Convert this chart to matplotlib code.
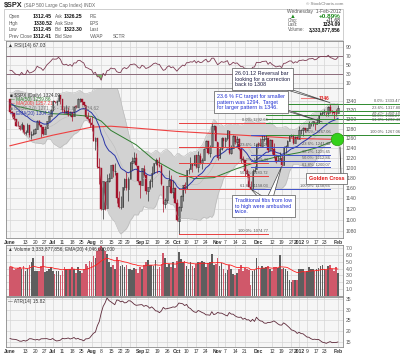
import numpy as np
import pandas as pd
import matplotlib
matplotlib.use('Agg')
import matplotlib.pyplot as plt
from matplotlib.patches import Polygon, Rectangle
from matplotlib.ticker import FixedLocator, NullLocator, NullFormatter

plt.rcParams['font.family'] = ['Liberation Sans', 'DejaVu Sans']

# trading days shown on the chart
holidays = ['2011-07-04', '2011-09-05', '2011-11-24', '2011-12-26', '2012-01-02', '2012-01-16']
days = pd.bdate_range('2011-06-01', '2012-02-01')
days = days[~days.isin(pd.to_datetime(holidays))]

# closes of May 2011, only used to warm up the indicators
may_closes = [1361.22, 1356.62, 1347.32, 1335.10, 1340.20, 1346.29, 1357.16, 1342.08, 1348.65, 1337.77,
              1329.47, 1328.98, 1340.68, 1343.60, 1333.27, 1317.37, 1316.28, 1320.47, 1325.69, 1331.10, 1345.20]

opens = [
    1345.20, 1314.55, 1312.94, 1300.26, 1286.31, 1284.63, 1279.63, 1288.26, 1271.31, 1272.22, 1287.87, 1265.53, 1268.58, 1271.50, 1278.40, 1295.48, 1286.60, 1283.04, 1268.44, 1280.21, 1296.85, 1307.64,
    1320.64, 1339.59, 1337.56, 1339.62, 1352.39, 1343.31, 1319.61, 1314.45, 1317.74, 1308.87, 1315.94, 1307.07, 1328.66, 1325.65, 1343.80, 1344.32, 1337.39, 1331.91, 1304.84, 1300.12,
    1292.59, 1286.56, 1254.25, 1260.23, 1200.28, 1198.48, 1120.23, 1171.77, 1121.30, 1172.87, 1178.86, 1204.22, 1192.89, 1189.62, 1140.47, 1123.55, 1124.36, 1162.16, 1176.69, 1158.85, 1177.91, 1209.76, 1213.00,
    1219.12, 1203.90, 1173.97, 1165.85, 1197.98, 1185.37, 1153.50, 1162.59, 1173.32, 1189.44, 1209.21, 1214.99, 1204.50, 1203.63, 1164.55, 1128.82, 1136.91, 1163.32, 1175.39, 1151.74, 1159.93,
    1131.21, 1097.42, 1124.03, 1144.11, 1165.03, 1158.15, 1194.60, 1196.19, 1206.96, 1205.65, 1224.47, 1200.75, 1223.46, 1209.92, 1215.39, 1238.72, 1254.19, 1229.17, 1243.97, 1284.39, 1284.96,
    1251.00, 1219.62, 1238.25, 1260.82, 1253.21, 1261.12, 1275.18, 1229.59, 1240.12, 1263.85, 1251.70, 1257.81, 1236.56, 1216.19, 1215.62, 1192.98, 1187.48, 1161.41, 1158.67, 1192.56, 1196.72,
    1246.91, 1246.03, 1244.33, 1257.19, 1258.14, 1260.87, 1234.48, 1255.05, 1236.83, 1225.73, 1212.12, 1216.09, 1219.74, 1205.72, 1241.25, 1243.72, 1254.00, 1265.02, 1265.38, 1249.75, 1262.82,
    1258.86, 1277.03, 1277.30, 1280.93, 1277.83, 1280.77, 1292.02, 1292.48, 1294.82, 1290.22, 1293.65, 1308.07, 1314.49, 1315.29, 1315.96, 1314.40, 1326.28, 1318.25, 1316.16, 1313.53,
    1312.45]
highs = [
    1345.20, 1318.03, 1312.94, 1300.26, 1296.22, 1287.04, 1294.54, 1288.26, 1277.04, 1292.50, 1287.87, 1274.11, 1279.82, 1280.42, 1297.62, 1298.61, 1286.60, 1283.93, 1284.91, 1296.80, 1309.21, 1321.97,
    1341.01, 1340.89, 1340.94, 1356.48, 1352.39, 1343.31, 1327.17, 1331.48, 1326.88, 1317.70, 1315.94, 1328.14, 1330.43, 1347.00, 1346.10, 1344.32, 1338.51, 1331.91, 1316.32, 1304.16,
    1307.38, 1286.56, 1261.20, 1260.23, 1218.11, 1198.48, 1172.88, 1171.77, 1186.29, 1189.04, 1204.49, 1204.22, 1208.47, 1189.62, 1154.54, 1145.49, 1162.35, 1178.56, 1190.68, 1181.23, 1210.08, 1220.10, 1230.71,
    1229.29, 1203.90, 1173.97, 1198.62, 1204.40, 1185.37, 1162.52, 1176.41, 1202.38, 1209.11, 1220.06, 1214.99, 1220.39, 1206.30, 1164.55, 1141.72, 1164.19, 1195.86, 1184.71, 1175.87, 1159.93,
    1138.99, 1125.12, 1146.07, 1165.55, 1171.40, 1194.91, 1199.24, 1220.25, 1207.46, 1224.61, 1224.47, 1233.10, 1229.64, 1219.36, 1239.03, 1256.55, 1254.19, 1246.28, 1292.66, 1287.08, 1284.96,
    1251.00, 1242.48, 1263.21, 1260.82, 1261.70, 1277.55, 1275.18, 1246.22, 1266.98, 1263.85, 1264.25, 1259.61, 1237.73, 1223.51, 1215.62, 1196.81, 1187.48, 1172.66, 1197.35, 1203.67, 1247.11,
    1251.09, 1260.08, 1266.73, 1266.03, 1267.06, 1260.87, 1258.25, 1255.05, 1249.86, 1225.73, 1225.60, 1231.04, 1224.57, 1242.82, 1245.09, 1255.22, 1265.42, 1269.37, 1265.85, 1263.54, 1264.12,
    1284.62, 1278.73, 1283.05, 1281.84, 1281.99, 1296.46, 1293.80, 1296.82, 1294.82, 1303.00, 1308.11, 1315.49, 1315.38, 1322.28, 1315.96, 1328.30, 1333.47, 1320.06, 1316.16, 1321.41,
    1330.52]
lows = [
    1313.71, 1305.61, 1297.90, 1284.72, 1284.74, 1277.42, 1279.63, 1268.28, 1265.64, 1272.22, 1261.90, 1258.07, 1267.40, 1267.56, 1278.40, 1286.79, 1262.87, 1267.24, 1267.53, 1280.21, 1296.85, 1307.64,
    1318.18, 1334.30, 1330.92, 1339.62, 1333.71, 1316.42, 1313.33, 1314.45, 1306.51, 1307.35, 1295.92, 1307.07, 1323.65, 1325.65, 1336.95, 1331.09, 1329.10, 1303.49, 1299.16, 1282.86,
    1274.73, 1254.03, 1234.56, 1199.54, 1168.09, 1119.28, 1101.54, 1118.01, 1121.30, 1170.74, 1178.86, 1180.53, 1184.36, 1131.03, 1122.05, 1121.09, 1124.36, 1156.30, 1155.47, 1135.91, 1177.91, 1195.77, 1209.35,
    1203.85, 1170.56, 1140.13, 1165.85, 1183.34, 1148.37, 1136.07, 1157.44, 1162.73, 1189.44, 1204.46, 1188.36, 1201.29, 1166.21, 1114.22, 1121.36, 1131.07, 1163.32, 1150.40, 1139.93, 1131.34,
    1098.92, 1074.77, 1115.68, 1134.95, 1150.26, 1158.15, 1187.30, 1196.19, 1190.58, 1205.65, 1198.55, 1191.48, 1206.31, 1197.34, 1215.39, 1238.72, 1226.79, 1221.06, 1243.97, 1277.01, 1253.16,
    1215.42, 1219.62, 1234.81, 1238.92, 1240.75, 1254.99, 1226.64, 1227.70, 1240.12, 1246.68, 1244.34, 1235.67, 1209.43, 1211.36, 1183.16, 1181.65, 1161.79, 1158.66, 1158.67, 1191.80, 1196.72,
    1239.73, 1243.35, 1244.33, 1253.03, 1244.80, 1231.47, 1234.48, 1227.25, 1219.43, 1209.47, 1212.12, 1215.20, 1202.37, 1205.72, 1229.51, 1243.72, 1254.00, 1262.30, 1248.64, 1249.75, 1257.46,
    1258.86, 1268.10, 1265.26, 1273.34, 1274.55, 1280.77, 1285.41, 1285.77, 1277.58, 1290.22, 1290.99, 1308.07, 1309.17, 1309.89, 1306.06, 1307.65, 1313.60, 1311.72, 1300.49, 1306.69,
    1312.45]
closes = [
    1314.55, 1312.94, 1300.16, 1286.17, 1284.94, 1279.56, 1289.00, 1270.98, 1271.83, 1287.87, 1265.42, 1267.64, 1271.50, 1278.36, 1295.52, 1287.14, 1283.50, 1268.45, 1280.10, 1296.67, 1307.41, 1320.64,
    1339.67, 1337.88, 1339.22, 1353.22, 1343.80, 1319.49, 1313.64, 1317.72, 1308.87, 1316.14, 1305.44, 1326.73, 1325.84, 1343.80, 1345.02, 1337.43, 1331.94, 1304.89, 1300.67, 1292.28,
    1286.94, 1254.05, 1260.34, 1200.07, 1199.38, 1119.46, 1172.53, 1120.76, 1172.64, 1178.81, 1204.49, 1192.76, 1193.89, 1140.65, 1123.53, 1123.82, 1162.35, 1177.60, 1159.27, 1176.80, 1210.08, 1212.92, 1218.89,
    1204.42, 1173.97, 1165.24, 1198.62, 1185.90, 1154.23, 1162.27, 1172.87, 1188.68, 1209.11, 1216.01, 1204.09, 1202.09, 1166.76, 1129.56, 1136.43, 1162.95, 1175.38, 1151.06, 1160.40, 1131.42,
    1099.23, 1123.95, 1144.03, 1164.97, 1155.46, 1194.89, 1195.54, 1207.25, 1203.66, 1224.58, 1200.86, 1225.38, 1209.88, 1215.39, 1238.25, 1254.19, 1229.05, 1242.00, 1284.59, 1285.09, 1253.30,
    1218.28, 1237.90, 1261.15, 1253.23, 1261.12, 1275.92, 1229.10, 1239.69, 1263.85, 1251.78, 1257.81, 1236.91, 1216.13, 1215.65, 1192.98, 1188.04, 1161.79, 1158.67, 1192.55, 1195.19, 1246.96,
    1244.58, 1244.28, 1257.08, 1258.47, 1261.01, 1234.35, 1255.19, 1236.47, 1225.73, 1211.82, 1215.75, 1219.66, 1205.35, 1241.30, 1243.72, 1254.00, 1265.33, 1265.43, 1249.64, 1263.02, 1257.60,
    1277.06, 1277.30, 1281.06, 1277.81, 1280.70, 1292.08, 1292.48, 1295.50, 1289.09, 1293.67, 1308.04, 1314.50, 1315.38, 1316.00, 1314.65, 1326.06, 1318.43, 1316.33, 1313.01, 1312.41,
    1324.09]
# volume in billions
volumes = [
    4.3, 4.2, 3.8, 4.0, 4.1, 4.2, 3.9, 4.4, 3.6, 3.9, 4.6, 4.9, 5.5, 3.6, 3.7, 3.6, 4.4, 5.8, 3.5, 3.7, 4.0, 4.2,
    3.6, 3.2, 3.6, 3.7, 3.1, 3.6, 4.2, 3.9, 4.0, 4.0, 4.2, 3.9, 3.4, 4.2, 3.6, 3.4, 3.9, 4.7, 4.4, 5.1,
    5.0, 5.9, 5.5, 6.6, 7.0, 7.3, 7.0, 6.6, 6.2, 5.0, 4.3, 4.5, 4.0, 5.7, 5.2, 4.4, 4.5, 4.2, 4.5, 4.0, 3.9, 3.8, 4.1,
    4.0, 3.4, 4.2, 4.0, 4.5, 4.9, 5.2, 4.5, 4.6, 4.4, 5.2, 4.0, 4.3, 4.7, 6.3, 5.6, 4.3, 4.7, 4.3, 5.0, 4.1,
    5.1, 6.4, 5.4, 5.0, 5.1, 4.4, 3.9, 4.9, 4.4, 4.1, 4.7, 5.0, 4.9, 5.1, 5.0, 4.3, 4.8, 4.9, 6.1, 4.5, 4.7,
    5.6, 4.4, 4.8, 3.9, 3.4, 3.8, 4.5, 3.9, 3.2, 3.1, 3.4, 4.0, 4.6, 3.7, 4.1, 4.0, 3.8, 1.6, 3.6, 3.8, 5.6,
    4.4, 4.0, 4.4, 4.1, 4.3, 4.4, 4.0, 3.6, 4.3, 4.3, 4.1, 6.0, 3.9, 4.1, 4.0, 3.6, 2.4, 2.1, 2.3, 2.3, 2.3,
    4.0, 3.9, 4.0, 3.5, 3.6, 4.2, 4.0, 4.0, 3.7, 4.0, 4.1, 4.4, 4.6, 3.9, 3.8, 4.4, 4.6, 4.0, 3.7, 4.2,
    3.33]

# moving averages
ma50_dates = ['2011-06-01', '2011-06-15', '2011-07-01', '2011-07-15', '2011-08-01', '2011-08-08', '2011-08-15',
              '2011-09-01', '2011-09-15', '2011-10-03', '2011-10-14', '2011-10-28', '2011-11-15', '2011-12-01',
              '2011-12-15', '2012-01-03', '2012-01-17', '2012-02-01']
ma50_vals = [1332, 1322, 1312, 1310, 1306, 1296, 1276, 1246, 1216, 1190, 1178, 1180, 1198, 1212, 1222, 1230, 1240, 1258]
ma200_dates = ['2011-06-01', '2011-07-01', '2011-08-01', '2011-08-15', '2011-09-01', '2011-10-03', '2011-11-01',
               '2011-12-01', '2012-01-03', '2012-02-01']
ma200_vals = [1244, 1266, 1283, 1285, 1281, 1274, 1269, 1264, 1259, 1257.21]

# fibonacci retracement sets drawn on the chart
fib_pcts = ['0.0%', '23.6%', '38.2%', '50.0%', '61.8%', '100.0%']
red_fib = [1292.66, 1241.25, 1209.43, 1183.72, 1158.03, 1074.77]
red_span = ['2011-10-04', '2011-12-08']
green_fib = [1333.47, 1317.80, 1308.10, 1300.27, 1292.43, 1267.06]
green_span = ['2011-12-07', '2012-02-01']
blue_fib = [1267.06, 1241.48, 1225.65, 1212.86, 1200.07, 1158.66]
blue_span = ['2011-11-25', '2012-01-26']

x_ticks = ['2011-06-01', '2011-06-13', '2011-06-20', '2011-06-27', '2011-07-01', '2011-07-11', '2011-07-18',
           '2011-07-25', '2011-08-01', '2011-08-08', '2011-08-15', '2011-08-22', '2011-08-29', '2011-09-01',
           '2011-09-12', '2011-09-19', '2011-09-26', '2011-10-03', '2011-10-10', '2011-10-17', '2011-10-24',
           '2011-11-01', '2011-11-07', '2011-11-14', '2011-11-21', '2011-12-01', '2011-12-12', '2011-12-19',
           '2011-12-27', '2012-01-03', '2012-01-09', '2012-01-17', '2012-01-23', '2012-02-01']
x_labels = ['June', '13', '20', '27', 'Jul', '11', '18', '25', 'Aug', '8', '15', '22', '29', 'Sep', '12', '19', '26',
            'Oct', '10', '17', '24', 'Nov', '7', '14', '21', 'Dec', '12', '19', '27', '2012', '9', '17', '23', 'Feb']
months = ['June', 'Jul', 'Aug', 'Sep', 'Oct', 'Nov', 'Dec', '2012', 'Feb']

assert len(days) == len(closes) == len(opens) == len(highs) == len(lows) == len(volumes)

def pos(d):
    return days.get_loc(pd.Timestamp(d))

x = np.arange(len(days))
o = np.array(opens); h = np.array(highs); l = np.array(lows); c = np.array(closes)
v = np.array(volumes)
prev_c = np.r_[may_closes[-1], c[:-1]]
down = c < prev_c

# indicators
allc = pd.Series(may_closes + closes)
n0 = len(may_closes)
sma20 = allc.rolling(20).mean().values[n0:]
sd20 = allc.rolling(20).std(ddof=0).values[n0:]
bb_up = sma20 + 2 * sd20
bb_lo = sma20 - 2 * sd20
ema20 = allc.ewm(span=20, adjust=False).mean().values[n0:]
delta = allc.diff()
gain = delta.clip(lower=0).ewm(alpha=1/14).mean()
loss = (-delta.clip(upper=0)).ewm(alpha=1/14).mean()
rsi = (100 - 100 / (1 + gain / loss)).values[n0:]
tr = np.maximum(h - l, np.maximum(abs(h - prev_c), abs(l - prev_c)))
atr = []
a = 15.5
for t in tr:
    a = (13 * a + t) / 14
    atr.append(a)
vol_ema = pd.Series(v).ewm(span=20).mean().values

# ---- figure ----
W, H = 400, 354
fig = plt.figure(figsize=(W / 100, H / 100), dpi=100)
fig.patch.set_facecolor('white')

def fx(px):
    return px / W

def fy(py):
    return 1 - py / H

L, R = 6, 343
def panel(top, bottom):
    ax = fig.add_axes([fx(L), fy(bottom), fx(R) - fx(L), fy(top) - fy(bottom)])
    ax.set_facecolor('#f6f6f6')
    for s in ax.spines.values():
        s.set_color('#8a8a8a')
        s.set_linewidth(0.6)
    ax.yaxis.tick_right()
    ax.tick_params(length=0, labelsize=3.6, colors='#555555', pad=2)
    ax.set_xlim(-2.06, 171.6)
    ax.set_xticks([pos(d) for d in x_ticks])
    ax.set_xticklabels([])
    ax.grid(color='#d6d6d6', lw=0.5)
    ax.set_axisbelow(True)
    return ax

def date_labels(ax):
    ax.set_xticklabels(x_labels)
    for t in ax.get_xticklabels():
        t.set_fontsize(3.6)
        t.set_color('#333333')
        if t.get_text() in months:
            t.set_fontweight('bold')
        # '29' and 'Sep' sit almost on top of each other
        if t.get_text() == '29':
            t.set_ha('right')
        if t.get_text() == 'Sep':
            t.set_ha('left')
    ax.tick_params(axis='x', pad=1.5)

ax_r = panel(41, 88)
ax_p = panel(88, 238)
ax_v = panel(245, 296)
ax_a = panel(297, 347)

# RSI
ax_r.set_ylim(-1.1, 103.3)
ax_r.set_yticks([10, 30, 50, 70, 90])
ax_r.axhline(70, color='#8c6b7a', lw=0.7)
ax_r.axhline(30, color='#8c6b7a', lw=0.7)
ax_r.plot(x, rsi, color='#7d3b52', lw=0.6)
ax_r.fill_between(x, rsi, 70, where=rsi > 70, color='#e08080', lw=0, interpolate=True)
ax_r.fill_between(x, rsi, 30, where=rsi < 30, color='#7fbf6f', lw=0, interpolate=True)
ax_r.text(0.006, 0.96, '\u25b2 RSI(14) 67.03', transform=ax_r.transAxes, fontsize=3.6,
          color='#333333', va='top')

# price panel
ax_p.set_yscale('log')
ax_p.set_ylim(1067.7, 1369)
ax_p.yaxis.set_major_locator(FixedLocator(list(range(1080, 1341, 20))))
ax_p.yaxis.set_minor_locator(NullLocator())
ax_p.yaxis.set_minor_formatter(NullFormatter())
ax_p.set_yticklabels([str(t) for t in range(1080, 1341, 20)])
ax_p.fill_between(x, bb_lo, bb_up, color='#d2d2d2', lw=0)
ax_p.plot(x, bb_up, color='#b8b8b8', lw=0.4)
ax_p.plot(x, bb_lo, color='#b8b8b8', lw=0.4)
ax_p.plot(x, sma20, color='#bcbcbc', lw=0.4)
ax_p.plot([pos(d) for d in ma200_dates], ma200_vals, color='#ee4040', lw=0.8)
ax_p.plot([pos(d) for d in ma50_dates], ma50_vals, color='#2f7d2f', lw=0.7)
ax_p.plot(x, ema20, color='#2a35a8', lw=0.7)

cols = np.where(down, '#a3122a', '#333333')
ax_p.vlines(x, l, h, colors=cols, lw=0.5)
body = np.maximum(np.abs(c - o), 0.6)
filled = c < o
ax_p.bar(x[filled], body[filled], bottom=np.minimum(o, c)[filled], width=0.8,
         color=cols[filled], edgecolor=cols[filled], lw=0.3)
ax_p.bar(x[~filled], body[~filled], bottom=np.minimum(o, c)[~filled], width=0.8,
         facecolor='#fafafa', edgecolor=cols[~filled], lw=0.4)

def fib_set(vals, span, color, x_end=None, label_x=None):
    x0 = pos(span[0])
    x1 = pos(span[1]) if x_end is None else x_end
    for p, val in zip(fib_pcts, vals):
        ax_p.plot([x0, x1], [val, val], color=color, lw=0.7, clip_on=False)
        lx = x1 if label_x is None else label_x
        ax_p.text(lx, val * 1.001, '%s: %.2f' % (p, val), fontsize=2.9, color='#555555',
                  ha='right', va='bottom', clip_on=False)

fib_set(red_fib, red_span, '#e84040')
fib_set(blue_fib, blue_span, '#4050c8')
fib_set(green_fib, green_span, '#2f8a2f', x_end=201, label_x=201)

ax_p.text(0.012, 0.97, '\u25a0 $SPX (Daily) 1324.09', transform=ax_p.transAxes, fontsize=3.4, color='#333333', va='top')
ax_p.text(0.012, 0.94, '\u2014 MA(50) 1259.86', transform=ax_p.transAxes, fontsize=3.4, color='#2f7d2f', va='top')
ax_p.text(0.012, 0.91, '\u2014 MA(200) 1257.21', transform=ax_p.transAxes, fontsize=3.4, color='#ee4040', va='top')
ax_p.text(0.012, 0.88, '\u25a0 BB(20,2.0) 1271.13 - 1302.87 - 1334.62', transform=ax_p.transAxes, fontsize=3.4, color='#777777', va='top')
ax_p.text(0.012, 0.85, '\u2014 EMA(20) 1304.54', transform=ax_p.transAxes, fontsize=3.4, color='#2a35a8', va='top')
date_labels(ax_p)

# golden cross marker
ax_p.plot(x[-1] - 0.5, ma200_vals[-1], 'o', ms=9, color='#33d11a', mec='#2a9a10', mew=0.5, zorder=6)

# volume
ax_v.set_ylim(0, 7.45)
ax_v.set_yticks([1, 2, 3, 4, 5, 6, 7])
ax_v.set_yticklabels(['1.0', '2.0', '3.0', '4.0', '5.0', '6.0', '7.0'])
ax_v.bar(x, v, width=0.85, color=np.where(down, '#d0586a', '#5e5e5e'), lw=0)
ax_v.plot(x, vol_ema, color='#ff2020', lw=0.6)
ax_v.text(0.006, 0.97, '\u25b2 Volume 3,333,877,856, EMA(20) 4,046,000,000', transform=ax_v.transAxes,
          fontsize=3.4, color='#333333', va='top')

# ATR
ax_a.set_ylim(12.7, 35.9)
ax_a.set_yticks([15, 20, 25, 30, 35])
ax_a.plot(x, atr, color='#5e2a3a', lw=0.6)
ax_a.text(0.006, 0.97, '\u2014 ATR(14) 15.82', transform=ax_a.transAxes, fontsize=3.4, color='#333333', va='top')
date_labels(ax_a)

# ---- header ----
fig.text(fx(4), fy(5), '$SPX', fontsize=5.2, fontweight='bold', color='#222222', va='center')
fig.text(fx(24), fy(5), '(S&P 500 Large Cap Index) INDX', fontsize=3.4, color='#666666', va='center')
fig.text(fx(343), fy(4), '\u00a9 StockCharts.com', fontsize=3.2, color='#777777', va='center', ha='right')
fig.add_artist(Rectangle((fx(4), fy(40)), fx(343) - fx(4), fy(9) - fy(40), transform=fig.transFigure,
                         facecolor='white', edgecolor='#bbbbbb', lw=0.5))
rows = [('Open', '1312.45', 'Ask', '1326.25', 'P/E'),
        ('High', '1330.52', 'Ask Size', '', 'EPS'),
        ('Low', '1312.45', 'Bid', '1323.30', 'Last'),
        ('Prev Close', '1312.41', 'Bid Size', '', 'VWAP')]
for k, (a1, b1, a2, b2, a3) in enumerate(rows):
    yy = fy(16.5 + k * 6.7)
    fig.text(fx(9), yy, a1, fontsize=3.3, color='#555555', va='center')
    fig.text(fx(52), yy, b1, fontsize=3.7, color='#111111', fontweight='bold', va='center', ha='right')
    fig.text(fx(55), yy, a2, fontsize=3.3, color='#555555', va='center')
    fig.text(fx(82), yy, b2, fontsize=3.7, color='#111111', fontweight='bold', va='center', ha='right')
    fig.text(fx(90), yy, a3, fontsize=3.3, color='#555555', va='center')
fig.text(fx(113), fy(36.5), 'SCTR', fontsize=3.3, color='#555555', va='center')

fig.text(fx(341), fy(11), 'Wednesday  1-Feb-2012', fontsize=3.5, color='#555555', va='center', ha='right')
fig.text(fx(290), fy(16), '\u25b2', fontsize=4.2, color='#1c8a1c', va='center')
fig.text(fx(341), fy(16), '+0.89%', fontsize=4.6, color='#1c8a1c', va='center', ha='right', fontweight='bold')
for k, (a1, b1) in enumerate([('Chg:', '+11.68'), ('Last:', '1324.09'), ('Volume:', '3,333,877,856')]):
    yy = fy(20.7 + k * 4.3)
    fig.text(fx(288), yy, a1, fontsize=3.3, color='#555555', va='center')
    fig.text(fx(341), yy, b1, fontsize=3.6, color='#111111', va='center', ha='right',
             fontweight='bold' if k else 'normal')

# ---- annotation boxes ----
def note(px, py, txt, color, fs=3.9, weight='normal'):
    return fig.text(fx(px), fy(py), txt, fontsize=fs, color=color, fontweight=weight, va='top', ha='left',
                    linespacing=1.15, zorder=10,
                    bbox=dict(boxstyle='square,pad=0.5', facecolor='white', edgecolor='#555555', lw=0.5))

def wedge(p_box, tip_data, ax, width=3):
    # thin callout from a box (fig pixels) to a data point
    tx, ty = ax.transData.transform(tip_data)
    bx, by = p_box[0], H - p_box[1]
    poly = Polygon([(bx - width, by), (bx + width, by), (tx, ty)], closed=True, transform=None,
                   facecolor='white', edgecolor='#444444', lw=0.5, zorder=9)
    fig.add_artist(poly)

wedge((290, 90), (pos('2012-01-26'), 1336), ax_p)
note(235, 71, '26.01.12 Reversal bar\nlooking for a correction\nback to 1308', '#1a1a40')
wedge((270, 105), (pos('2012-01-20'), 1294), ax_p)
note(217, 94, '23.6 % FC target for smaller\npattern was 1294.  Target\nfor larger pattern is 1346.', '#1f2fd0')
wedge((262, 198), (pos('2011-11-25'), 1158.66), ax_p)
wedge((270, 198), (pos('2011-12-19'), 1202.37), ax_p)
note(235, 198, 'Traditional fibs from low\nto high were ambushed\ntwice.', '#1f2fd0')

ax_p.plot([pos('2012-01-04'), pos('2012-01-17')], [1346, 1346], color='#f08080', lw=0.8)
ax_p.text(pos('2012-01-18'), 1346, '1346', fontsize=3.4, color='#e02020', fontweight='bold', va='center')

fig.add_artist(plt.Line2D([fx(341), fx(340)], [fy(176), fy(147)], color='#222222', lw=0.6, zorder=9))
note(309, 176, 'Golden Cross', '#e01010', fs=3.9, weight='bold')

fig.savefig('out.png', dpi=100)
